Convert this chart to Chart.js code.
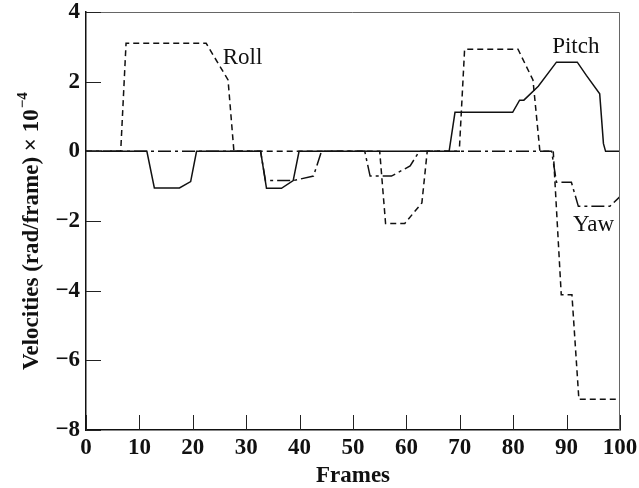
<!DOCTYPE html>
<html>
<head>
<meta charset="utf-8">
<script src="https://cdn.jsdelivr.net/npm/chart.js@4/dist/chart.umd.min.js"></script>
<style>
  html, body { margin: 0; padding: 0; background: #fff; }
  #chart { display: block; }
</style>
</head>
<body>
<canvas id="chart" width="639" height="488"></canvas>
<script>
// ---- Data ----
const rollFrames = [0, 6.5, 7.5, 22.5, 26.6, 27.7, 55.0, 56.1, 59.7, 62.9, 63.9, 69.9, 70.9, 80.9, 83.7, 85.0, 87.5, 89.0, 91.0, 92.3, 100];
const rollValues = [0, 0, 3.1, 3.1, 2.05, 0, 0, -2.07, -2.07, -1.48, 0, 0, 2.93, 2.93, 2.05, 0, 0, -4.12, -4.12, -7.12, -7.12];

const pitchFrames = [0, 11.4, 12.8, 17.5, 19.6, 20.7, 32.7, 33.8, 36.6, 38.8, 39.9, 68.0, 69.1, 79.9, 81.2, 82.0, 84.7, 88.1, 92.0, 93.7, 96.2, 96.9, 97.3, 100];
const pitchValues = [0, 0, -1.05, -1.05, -0.87, 0, 0, -1.06, -1.06, -0.84, 0, 0, 1.12, 1.12, 1.47, 1.47, 1.87, 2.56, 2.56, 2.18, 1.65, 0.22, 0, 0];

const yawFrames = [0, 32.7, 33.6, 38.8, 42.6, 44.1, 52.2, 53.2, 57.2, 60.7, 62.4, 87.2, 88.1, 90.9, 92.2, 98.1, 100];
const yawValues = [0, 0, -0.84, -0.84, -0.71, 0, 0, -0.71, -0.71, -0.42, 0, 0, -0.89, -0.89, -1.58, -1.58, -1.30];

// curve labels: [text, frame, value] (left end of the baseline)
const curveLabels = [
  ["Roll", 25.6, 2.51],
  ["Pitch", 87.3, 2.83],
  ["Yaw", 91.2, -2.29]
];

const xTicks = [0, 10, 20, 30, 40, 50, 60, 70, 80, 90, 100];
const yTicks = [4, 2, 0, -2, -4, -6, -8];

const FONT = "'Liberation Serif', 'DejaVu Serif', serif";

function toPoints(xs, ys) {
  return xs.map((x, i) => ({ x: x, y: ys[i] }));
}

// ---- Plugin: frame, inward ticks, curve names, y title ----
const decorations = {
  id: "decorations",
  afterDatasetsDraw(chart) {
    const { ctx, chartArea: a, scales: { x, y } } = chart;
    ctx.save();
    // top + right frame
    ctx.strokeStyle = "#666";
    ctx.lineWidth = 1;
    ctx.beginPath();
    ctx.moveTo(a.left, a.top + 0.5);
    ctx.lineTo(a.right - 0.5, a.top + 0.5);
    ctx.lineTo(a.right - 0.5, a.bottom);
    ctx.stroke();

    // ticks pointing into the plot
    ctx.strokeStyle = "#222";
    ctx.beginPath();
    xTicks.forEach(v => {
      const px = Math.round(x.getPixelForValue(v)) + 0.5;
      ctx.moveTo(px, a.bottom);
      ctx.lineTo(px, a.bottom - 15);
    });
    yTicks.forEach(v => {
      const py = Math.round(y.getPixelForValue(v)) + 0.5;
      ctx.moveTo(a.left, py);
      ctx.lineTo(a.left + 15, py);
    });
    ctx.stroke();

    // curve names
    ctx.fillStyle = "#111";
    ctx.font = "23px " + FONT;
    ctx.textAlign = "left";
    ctx.textBaseline = "alphabetic";
    curveLabels.forEach(([t, fx, fy]) => {
      ctx.fillText(t, x.getPixelForValue(fx), y.getPixelForValue(fy));
    });

    // y axis title with superscript
    ctx.translate(38, 370);
    ctx.rotate(-Math.PI / 2);
    ctx.font = "bold 23px " + FONT;
    const main = "Velocities (rad/frame) \u00d7 10";
    ctx.fillText(main, 0, 0);
    const w = ctx.measureText(main).width;
    ctx.font = "bold 15px " + FONT;
    ctx.fillText("\u22124", w + 1, -11);
    ctx.restore();
  }
};

new Chart(document.getElementById("chart"), {
  type: "line",
  data: {
    datasets: [
      {
        label: "Roll",
        data: toPoints(rollFrames, rollValues),
        borderColor: "#111",
        borderWidth: 1.5,
        borderDash: [6, 4],
        pointRadius: 0,
        tension: 0
      },
      {
        label: "Yaw",
        data: toPoints(yawFrames, yawValues),
        borderColor: "#111",
        borderWidth: 1.5,
        borderDash: [13, 4, 3, 4],
        pointRadius: 0,
        tension: 0
      },
      {
        label: "Pitch",
        data: toPoints(pitchFrames, pitchValues),
        borderColor: "#111",
        borderWidth: 1.5,
        pointRadius: 0,
        tension: 0
      }
    ]
  },
  options: {
    responsive: false,
    animation: false,
    layout: { padding: { left: 0, right: 19, top: 12, bottom: 0 } },
    plugins: {
      legend: { display: false },
      tooltip: { enabled: false }
    },
    scales: {
      x: {
        type: "linear",
        min: 0,
        max: 100,
        afterFit: s => { s.height = 58; s.paddingLeft = 0; s.paddingRight = 0; },
        afterBuildTicks: s => { s.ticks = xTicks.map(v => ({ value: v })); },
        ticks: {
          color: "#111",
          padding: 4,
          maxRotation: 0,
          autoSkip: false,
          font: { family: FONT, size: 23, weight: "bold" }
        },
        grid: { drawOnChartArea: false, drawTicks: false },
        border: { color: "#111", width: 1.5 },
        title: {
          display: true,
          text: "Frames",
          color: "#111",
          padding: { top: 0, bottom: 0 },
          font: { family: FONT, size: 23, weight: "bold", lineHeight: 1.0 }
        }
      },
      y: {
        min: -8,
        max: 4,
        afterFit: s => { s.width = 86; s.paddingTop = 0; s.paddingBottom = 0; },
        afterBuildTicks: s => { s.ticks = yTicks.map(v => ({ value: v })); },
        ticks: {
          color: "#111",
          padding: 6,
          autoSkip: false,
          font: { family: FONT, size: 23, weight: "bold" },
          callback: v => (v < 0 ? "\u2212" + Math.abs(v) : String(v))
        },
        grid: { drawOnChartArea: false, drawTicks: false },
        border: { color: "#111", width: 1.5 }
      }
    }
  },
  plugins: [decorations]
});
</script>
</body>
</html>
